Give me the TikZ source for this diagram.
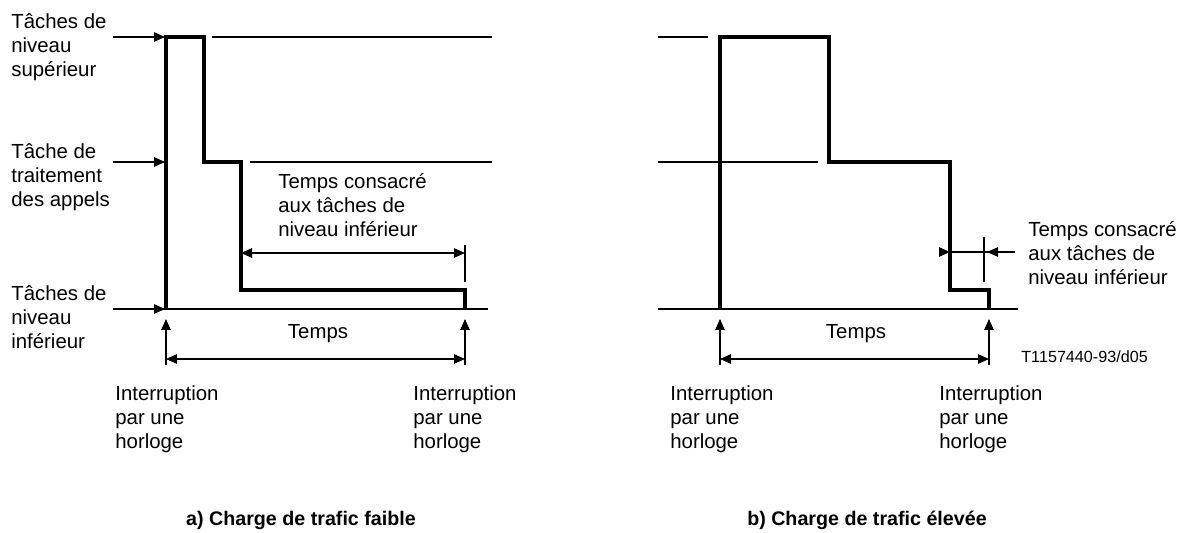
\documentclass[tikz,border=0pt]{standalone}
\usepackage{fontspec}
\setmainfont{Liberation Sans}
\usepackage{tikz}
\usetikzlibrary{arrows.meta, positioning, calc}

\begin{document}
\begin{tikzpicture}[x=0.02cm, y=-0.02cm,
  lbl/.style={font=\fontsize{11.6}{13.9}\selectfont, align=left, inner sep=0pt, anchor=base west},
  ctr/.style={font=\fontsize{11.6}{13.9}\selectfont, inner sep=0pt},
  caption/.style={font=\fontsize{11.2}{13.9}\selectfont\bfseries, inner sep=0pt},
  sig/.style={line width=1.9pt, line join=miter},
  guide/.style={line width=0.6pt},
  arr/.style={guide, -{Triangle[length=0.22cm, width=0.19cm]}},
  dim/.style={guide, {Triangle[length=0.22cm, width=0.19cm]}-{Triangle[length=0.22cm, width=0.19cm]}},
]
  \useasboundingbox (0,0) rectangle (1184,533);

  % a) Charge de trafic faible (base = last line)
  \node[lbl] (hautA) at (11, 77) {Tâches de\\niveau\\supérieur};
  \node[lbl] (appA) at (11, 207) {Tâche de\\traitement\\des appels};
  \node[lbl] (basA) at (11, 349) {Tâches de\\niveau\\inférieur};

  \coordinate (startA) at (166,309);
  \coordinate (endA) at (465,309);
  \draw[guide] (212,37) -- (492,37);
  \draw[guide] (250,162) -- (492,162);
  \draw[guide] (113,309) -- (488,309);
  \foreach \y in {37,162,309}
    \draw[arr] (113,\y) -- (165,\y);
  \draw[sig] (startA) |- (204,37) |- (241,162) |- (465,290) -- (endA);

  % temps libre
  \coordinate (libA) at (241,253);
  \coordinate (finA) at (465,253);
  \draw[dim] (libA) -- (finA);
  \draw[guide] (465,245) -- (465,282);
  \node[lbl] (consA) at (278,237) {Temps consacré\\aux tâches de\\niveau inférieur};

  % horloge
  \coordinate (h1A) at (166,365);
  \coordinate (h2A) at (465,365);
  \draw[arr] (h1A) -- (166,319);
  \draw[arr] (h2A) -- (465,319);
  \draw[dim] ($(h1A)+(0,-6)$) -- ($(h2A)+(0,-6)$);
  \node[ctr] (tpsA) at (318,334) {Temps};
  \node[lbl] (int1A) at (115,449) {Interruption\\par une\\horloge};
  \node[lbl] (int2A) at (413,449) {Interruption\\par une\\horloge};
  \node[caption] (capA) at (301,520) {a) Charge de trafic faible};

  % b) Charge de trafic élevée
  \coordinate (startB) at (720,309);
  \coordinate (endB) at (989,309);
  \draw[guide] (658,37) -- (708,37);
  \draw[guide] (658,162) -- (818,162);
  \draw[guide] (658,309) -- (1018,309);
  \draw[sig] (startB) |- (829,37) |- (950,162) |- (989,290) -- (endB);

  % temps libre
  \coordinate (libB) at (950,252);
  \coordinate (finB) at (987,252);
  \draw[guide] (939,252) -- (1015,252);
  \draw[arr] (939,252) -- (libB);
  \draw[arr] (1015,252) -- (finB);
  \draw[guide] (984,237) -- (984,282);
  \node[lbl] (consB) at (1028,285) {Temps consacré\\aux tâches de\\niveau inférieur};

  % horloge
  \coordinate (h1B) at (720,365);
  \coordinate (h2B) at (989,365);
  \draw[arr] (h1B) -- (720,319);
  \draw[arr] (h2B) -- (989,319);
  \draw[dim] ($(h1B)+(0,-6)$) -- ($(h2B)+(0,-6)$);
  \node[ctr] (tpsB) at (856,334) {Temps};
  \node[lbl, font=\fontsize{9.2}{11}\selectfont] (ref) at (1021,363) {T1157440-93/d05};
  \node[lbl] (int1B) at (670,449) {Interruption\\par une\\horloge};
  \node[lbl] (int2B) at (939,449) {Interruption\\par une\\horloge};
  \node[caption] (capB) at (867,520) {b) Charge de trafic élevée};
\end{tikzpicture}
\end{document}
